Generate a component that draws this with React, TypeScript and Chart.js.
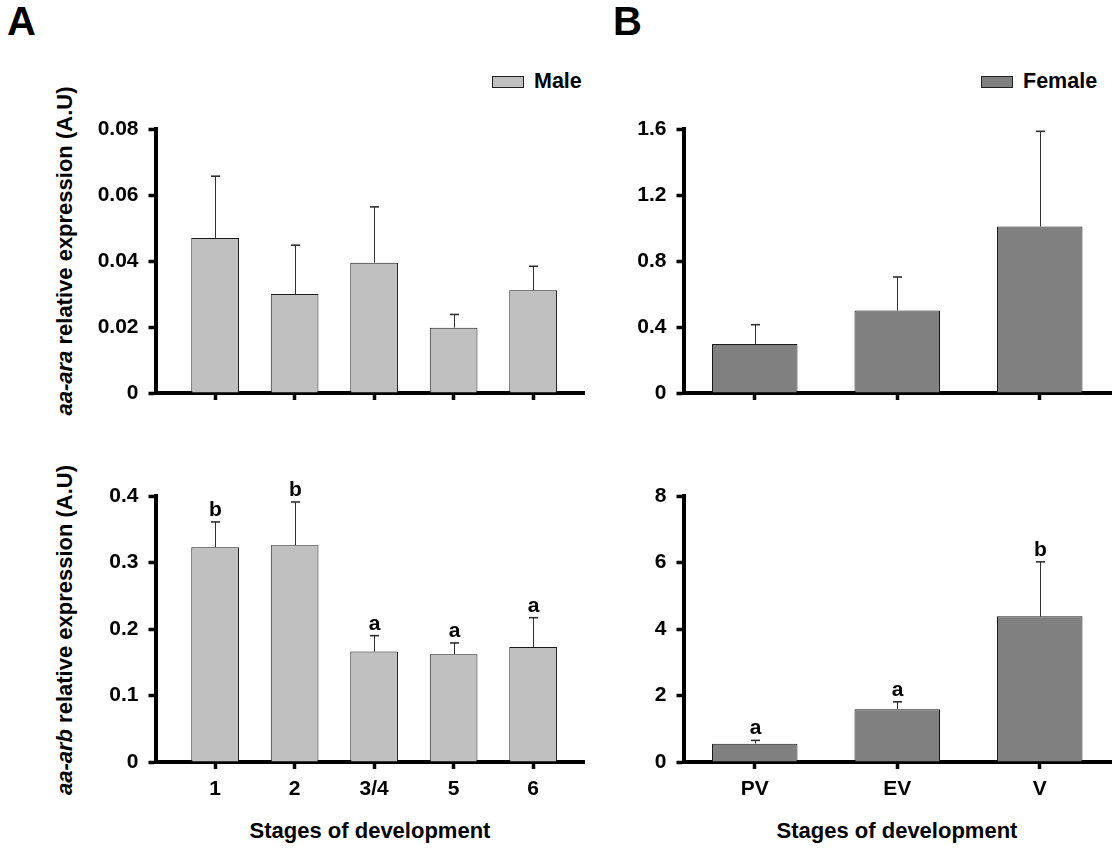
import React, { useEffect, useRef } from 'react';
import { Chart, registerables } from 'chart.js';

Chart.register(...registerables);

// ---------- data ----------
const maleStages = ['1', '2', '3/4', '5', '6'];
const femaleStages = ['PV', 'EV', 'V'];

const maleAraMean = [0.047, 0.03, 0.0395, 0.0198, 0.0311];
const maleAraSd = [0.0187, 0.0148, 0.0169, 0.004, 0.0073];

const femaleAraMean = [0.297, 0.5, 1.009];
const femaleAraSd = [0.117, 0.203, 0.577];

const maleArbMean = [0.323, 0.326, 0.166, 0.162, 0.173];
const maleArbSd = [0.038, 0.065, 0.024, 0.017, 0.044];
const maleArbLetters = ['b', 'b', 'a', 'a', 'a'];

const femaleArbMean = [0.55, 1.59, 4.38];
const femaleArbSd = [0.1, 0.22, 1.64];
const femaleArbLetters = ['a', 'a', 'b'];

const maleAraTicks = [0, 0.02, 0.04, 0.06, 0.08];
const maleAraTickLabels = ['0', '0.02', '0.04', '0.06', '0.08'];
const femaleAraTicks = [0, 0.4, 0.8, 1.2, 1.6];
const femaleAraTickLabels = ['0', '0.4', '0.8', '1.2', '1.6'];
const maleArbTicks = [0, 0.1, 0.2, 0.3, 0.4];
const maleArbTickLabels = ['0', '0.1', '0.2', '0.3', '0.4'];
const femaleArbTicks = [0, 2, 4, 6, 8];
const femaleArbTickLabels = ['0', '2', '4', '6', '8'];

// ---------- styles ----------
const FONT = '"Liberation Sans", Arial, Helvetica, sans-serif';
const MALE_FILL = '#c0c0c0';
const FEMALE_FILL = '#808080';

type PanelParams = {
  labels: string[];
  means: number[];
  sds: number[];
  letters?: string[];
  yTicks: number[];
  yTickLabels: string[];
  xMin: number;
  xMax: number;
  fill: string;
  showX: boolean;
  padTop: number;
  padRight: number;
  yWidth: number;
  xHeight: number;
};

function buildConfig(p: PanelParams): any {
  const xs = p.labels.map((_, i) => i + 1);
  const errorBars = {
    id: 'errorBars',
    afterDatasetsDraw(chart: any) {
      const { ctx } = chart;
      const xScale = chart.scales.x;
      const yScale = chart.scales.y;
      ctx.save();
      p.means.forEach((m, i) => {
        const x = Math.round(xScale.getPixelForValue(xs[i])) + 0.5;
        const y0 = yScale.getPixelForValue(m);
        const y1 = yScale.getPixelForValue(m + p.sds[i]);
        ctx.strokeStyle = '#303030';
        ctx.lineWidth = 1;
        ctx.beginPath();
        ctx.moveTo(x, y0);
        ctx.lineTo(x, y1);
        ctx.stroke();
        ctx.lineWidth = 1.6;
        ctx.beginPath();
        ctx.moveTo(x - 4.5, y1);
        ctx.lineTo(x + 4.5, y1);
        ctx.stroke();
        if (p.letters && p.letters[i]) {
          ctx.fillStyle = '#000';
          ctx.font = `bold 21px ${FONT}`;
          ctx.textAlign = 'center';
          ctx.textBaseline = 'alphabetic';
          ctx.fillText(p.letters[i], x, y1 - 6);
        }
      });
      ctx.restore();
    },
  };

  return {
    type: 'bar',
    data: {
      datasets: [
        {
          data: xs.map((x, i) => ({ x, y: p.means[i] })),
          backgroundColor: p.fill,
          borderColor: '#1a1a1a',
          borderWidth: 1,
          borderSkipped: 'bottom',
          categoryPercentage: 1,
          barPercentage: 0.6,
        },
      ],
    },
    options: {
      responsive: false,
      animation: false,
      devicePixelRatio: 1,
      events: [],
      layout: { padding: { top: p.padTop, right: p.padRight, left: 0, bottom: 0 } },
      plugins: {
        legend: { display: false },
        tooltip: { enabled: false },
        title: { display: false },
      },
      scales: {
        x: {
          type: 'linear',
          min: p.xMin,
          max: p.xMax,
          offset: false,
          z: 1,
          afterBuildTicks: (axis: any) => {
            axis.ticks = xs.map((v) => ({ value: v }));
          },
          afterFit: (axis: any) => {
            axis.height = p.xHeight;
          },
          grid: {
            display: true,
            offset: false,
            drawOnChartArea: false,
            drawTicks: true,
            tickLength: 7,
            tickWidth: 3.5,
            tickColor: '#000',
          },
          border: { display: true, width: 4, color: '#000' },
          ticks: {
            display: p.showX,
            autoSkip: false,
            maxRotation: 0,
            padding: 8,
            color: '#000',
            font: { family: FONT, size: 21, weight: 'bold' },
            callback: (_v: any, i: number) => p.labels[i],
          },
        },
        y: {
          type: 'linear',
          min: 0,
          max: p.yTicks[p.yTicks.length - 1],
          z: 1,
          afterBuildTicks: (axis: any) => {
            axis.ticks = p.yTicks.map((v) => ({ value: v }));
          },
          afterFit: (axis: any) => {
            axis.width = p.yWidth;
          },
          grid: {
            display: true,
            drawOnChartArea: false,
            drawTicks: true,
            tickLength: 7,
            tickWidth: 3.5,
            tickColor: '#000',
          },
          border: { display: true, width: 4, color: '#000' },
          ticks: {
            padding: 10,
            color: '#000',
            font: { family: FONT, size: 21, weight: 'bold' },
            callback: (_v: any, i: number) => p.yTickLabels[i],
          },
        },
      },
    },
    plugins: [errorBars],
  };
}

function ChartPanel(props: { left: number; top: number; width: number; height: number; params: PanelParams }) {
  const ref = useRef<HTMLCanvasElement | null>(null);
  useEffect(() => {
    if (!ref.current) return;
    const chart = new Chart(ref.current, buildConfig(props.params));
    return () => chart.destroy();
  }, []);
  return (
    <canvas
      ref={ref}
      width={props.width}
      height={props.height}
      style={{ position: 'absolute', left: props.left, top: props.top, width: props.width, height: props.height }}
    />
  );
}

const textBase: React.CSSProperties = {
  position: 'absolute',
  fontFamily: FONT,
  fontWeight: 'bold',
  color: '#000',
  whiteSpace: 'nowrap',
  lineHeight: 1,
};

function Centered(props: { x: number; y: number; size: number; rotate?: boolean; children: React.ReactNode }) {
  return (
    <div
      style={{
        ...textBase,
        left: props.x,
        top: props.y,
        fontSize: props.size,
        transform: `translate(-50%, -50%)${props.rotate ? ' rotate(-90deg)' : ''}`,
      }}
    >
      {props.children}
    </div>
  );
}

function LegendItem(props: { x: number; y: number; fill: string; label: string }) {
  return (
    <>
      <div
        style={{
          position: 'absolute',
          left: props.x,
          top: props.y - 6,
          width: 30,
          height: 10,
          background: props.fill,
          border: '1px solid #222',
        }}
      />
      <div style={{ ...textBase, left: props.x + 42, top: props.y, fontSize: 21.5, transform: 'translateY(-50%)' }}>
        {props.label}
      </div>
    </>
  );
}

export default function App() {
  return (
    <div style={{ position: 'absolute', left: 0, top: 0, width: 1113, height: 852, background: '#fff', overflow: 'hidden' }}>
      <div style={{ ...textBase, left: 7, top: 1, fontSize: 40 }}>A</div>
      <div style={{ ...textBase, left: 613, top: 1, fontSize: 40 }}>B</div>

      <LegendItem x={492} y={82} fill={MALE_FILL} label="Male" />
      <LegendItem x={981} y={82} fill={FEMALE_FILL} label="Female" />

      <Centered x={65} y={251} size={22} rotate>
        <i>aa-ara</i> relative expression (A.U)
      </Centered>
      <Centered x={65} y={630} size={22} rotate>
        <i>aa-arb</i> relative expression (A.U)
      </Centered>

      <Centered x={370} y={831} size={22}>Stages of development</Centered>
      <Centered x={897} y={831} size={22}>Stages of development</Centered>

      <ChartPanel
        left={0}
        top={100}
        width={600}
        height={360}
        params={{
          labels: maleStages,
          means: maleAraMean,
          sds: maleAraSd,
          yTicks: maleAraTicks,
          yTickLabels: maleAraTickLabels,
          xMin: 0.25,
          xMax: 5.64,
          fill: MALE_FILL,
          showX: false,
          padTop: 29,
          padRight: 16,
          yWidth: 155.5,
          xHeight: 67,
        }}
      />
      <ChartPanel
        left={560}
        top={100}
        width={553}
        height={360}
        params={{
          labels: femaleStages,
          means: femaleAraMean,
          sds: femaleAraSd,
          yTicks: femaleAraTicks,
          yTickLabels: femaleAraTickLabels,
          xMin: 0.5,
          xMax: 3.5,
          fill: FEMALE_FILL,
          showX: false,
          padTop: 29,
          padRight: 2,
          yWidth: 123.5,
          xHeight: 67,
        }}
      />
      <ChartPanel
        left={0}
        top={470}
        width={600}
        height={382}
        params={{
          labels: maleStages,
          means: maleArbMean,
          sds: maleArbSd,
          letters: maleArbLetters,
          yTicks: maleArbTicks,
          yTickLabels: maleArbTickLabels,
          xMin: 0.25,
          xMax: 5.64,
          fill: MALE_FILL,
          showX: true,
          padTop: 26,
          padRight: 16,
          yWidth: 155.5,
          xHeight: 90,
        }}
      />
      <ChartPanel
        left={560}
        top={470}
        width={553}
        height={382}
        params={{
          labels: femaleStages,
          means: femaleArbMean,
          sds: femaleArbSd,
          letters: femaleArbLetters,
          yTicks: femaleArbTicks,
          yTickLabels: femaleArbTickLabels,
          xMin: 0.5,
          xMax: 3.5,
          fill: FEMALE_FILL,
          showX: true,
          padTop: 26,
          padRight: 2,
          yWidth: 123.5,
          xHeight: 90,
        }}
      />
    </div>
  );
}
